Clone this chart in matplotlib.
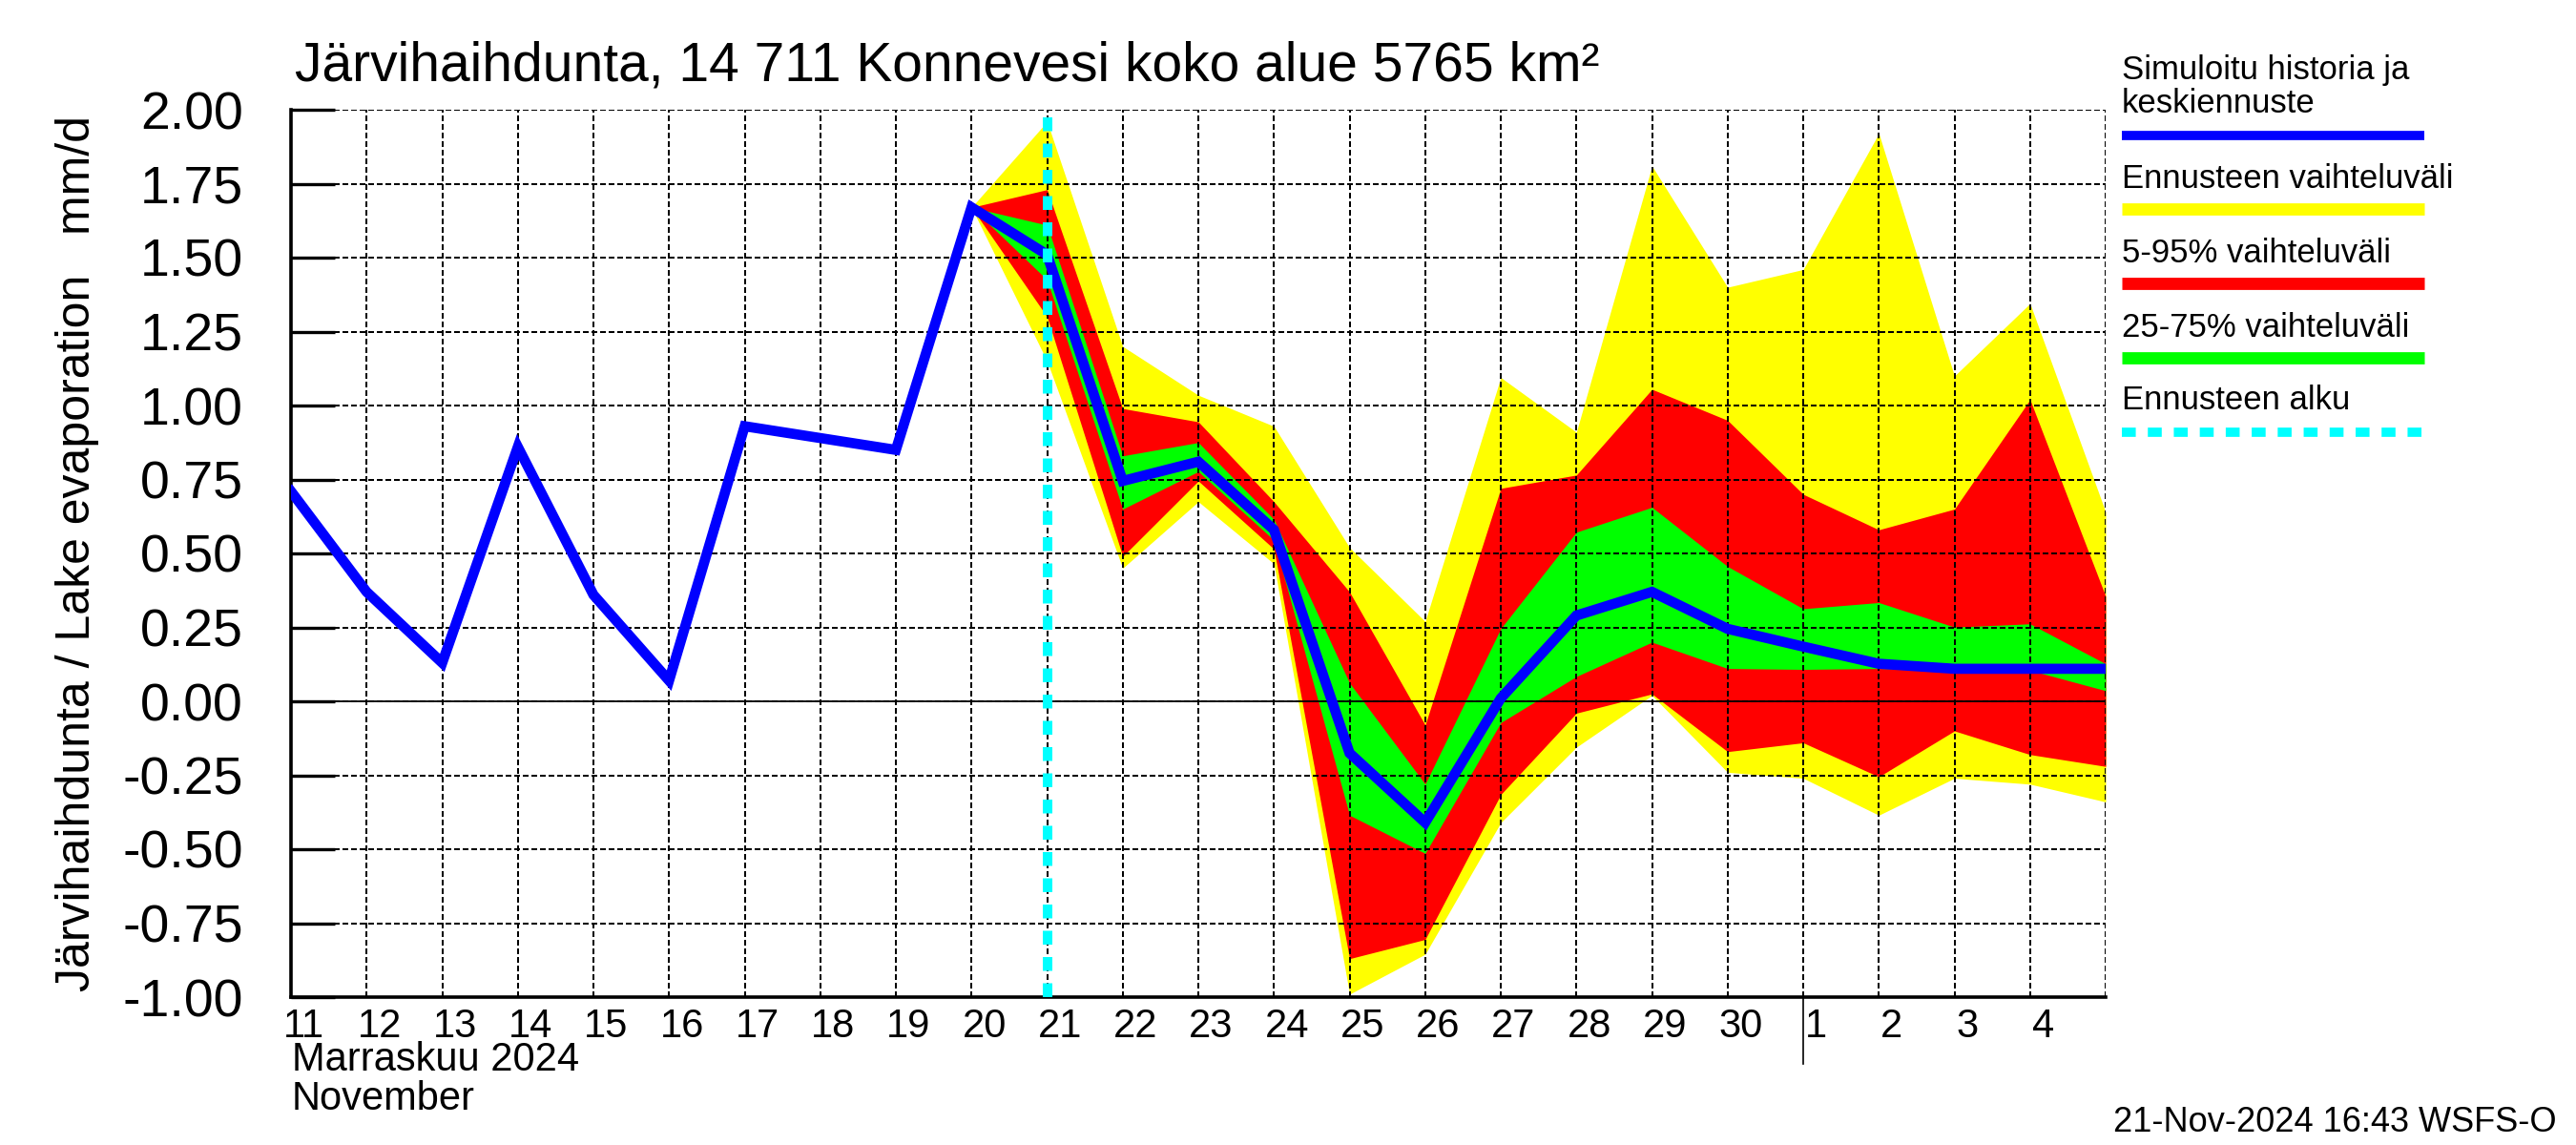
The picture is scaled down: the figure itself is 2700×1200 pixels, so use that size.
import matplotlib
matplotlib.use("Agg")
import matplotlib.pyplot as plt
from matplotlib.lines import Line2D
import matplotlib.transforms as mtransforms

plt.rcParams['font.family'] = ['Liberation Sans', 'DejaVu Sans']

# Päivät: marraskuun päivänumero, joulukuu jatkuu 31, 32, ...
days = list(range(11, 36))
day_labels = ['11', '12', '13', '14', '15', '16', '17', '18', '19', '20',
              '21', '22', '23', '24', '25', '26', '27', '28', '29', '30',
              '1', '2', '3', '4']

# Simuloitu historia ja keskiennuste (mm/d)
median = [0.71, 0.37, 0.13, 0.86, 0.36, 0.07, 0.93, 0.89, 0.85, 1.67,
          1.51, 0.745, 0.81, 0.58, -0.175, -0.41, 0.01, 0.29, 0.37, 0.245,
          0.185, 0.127, 0.11, 0.11, 0.11]

# Ennusteen vaihteluvälit päivästä 20 eteenpäin
fc_days = list(range(20, 36))
yel_hi = [1.67, 1.96, 1.20, 1.035, 0.93, 0.52, 0.27, 1.095, 0.91, 1.81,
          1.40, 1.46, 1.92, 1.10, 1.345, 0.64]
yel_lo = [1.67, 1.15, 0.45, 0.675, 0.465, -0.99, -0.855, -0.41, -0.155, 0.02,
          -0.24, -0.26, -0.385, -0.26, -0.28, -0.34]
red_hi = [1.67, 1.73, 0.99, 0.945, 0.675, 0.37, -0.08, 0.72, 0.765, 1.055,
          0.95, 0.70, 0.58, 0.65, 1.02, 0.355]
red_lo = [1.67, 1.30, 0.49, 0.745, 0.515, -0.87, -0.805, -0.315, -0.04, 0.025,
          -0.17, -0.14, -0.255, -0.10, -0.18, -0.22]
grn_hi = [1.67, 1.61, 0.83, 0.875, 0.615, 0.062, -0.28, 0.246, 0.572, 0.656,
          0.456, 0.313, 0.334, 0.251, 0.262, 0.127]
grn_lo = [1.67, 1.425, 0.65, 0.777, 0.545, -0.385, -0.514, -0.072, 0.084, 0.20,
          0.111, 0.108, 0.111, 0.105, 0.105, 0.036]

forecast_start = 21
month_start = 31
yticks = [-1.0, -0.75, -0.5, -0.25, 0.0, 0.25, 0.5, 0.75, 1.0, 1.25, 1.5, 1.75, 2.0]

W, H = 2700, 1200
fig = plt.figure(figsize=(W / 100, H / 100), dpi=100)
ax = fig.add_axes([305 / W, 1 - 1045 / H, (2207 - 305) / W, (1045 - 115) / H])

# Vaihteluvälit
ax.fill_between(fc_days, yel_lo, yel_hi, color=(1, 1, 0), lw=0, zorder=1)
ax.fill_between(fc_days, red_lo, red_hi, color=(1, 0, 0), lw=0, zorder=1.1)
ax.fill_between(fc_days, grn_lo, grn_hi, color=(0, 1, 0), lw=0, zorder=1.2)

ax.axhline(0, color='black', lw=1.3, zorder=1.6)
ax.plot(days, median, color=(0, 0, 1), lw=7.7, solid_joinstyle='miter', zorder=3)
ax.axvline(forecast_start, color=(0, 1, 1), lw=7.2, linestyle=(0, (1.45, 1.3)), zorder=4)

ax.set_xlim(11, 35)
ax.set_ylim(-1, 2)

# Ruudukko
ax.set_xticks(days)
ax.set_xticklabels([])
ax.set_yticks(yticks)
ax.set_yticklabels([f"{v:.2f}" for v in yticks], fontsize=40)
ax.set_axisbelow('line')
ax.grid(True, color='black', lw=1.1, linestyle=(0, (3.6, 2.2)), antialiased=False)

ax.tick_params(axis='y', direction='in', length=33, width=2.4, pad=36)
ax.tick_params(axis='x', which='major', length=0)

# Päivien nimiöt hieman gridin oikealle puolelle
ax.set_xticks([d + 0.17 for d in days[:-1]], day_labels, minor=True)
ax.tick_params(axis='x', which='minor', length=0, labelsize=30, pad=8)

for s in ['top', 'right']:
    ax.spines[s].set_visible(False)
ax.spines['left'].set_linewidth(2.6)
ax.spines['bottom'].set_linewidth(2.6)

# Kuukauden vaihde
trans = mtransforms.blended_transform_factory(ax.transData, ax.transAxes)
ax.plot([month_start, month_start], [0, -0.075], color='black', lw=1.2,
        transform=trans, clip_on=False)

fig.text(309 / W, 1 - 84 / H, 'Järvihaihdunta, 14 711 Konnevesi koko alue 5765 km²',
         fontsize=41, va='baseline', ha='left')
fig.text(81 / W, 1 - 580 / H, 'Järvihaihdunta / Lake evaporation   mm/d',
         fontsize=36, rotation=90, va='center', ha='center')
fig.text(306 / W, 1 - 1122 / H, 'Marraskuu 2024', fontsize=30, va='baseline')
fig.text(306 / W, 1 - 1163 / H, 'November', fontsize=30, va='baseline')
fig.text(2680 / W, 1 - 1186 / H, '21-Nov-2024 16:43 WSFS-O', fontsize=26,
         va='baseline', ha='right')

# Selite
lx0, lx1 = 2224 / W, 2541 / W
fig.text(lx0, 1 - 83 / H, 'Simuloitu historia ja', fontsize=25, va='baseline')
fig.text(lx0, 1 - 118 / H, 'keskiennuste', fontsize=25, va='baseline')
fig.add_artist(Line2D([lx0, lx1], [1 - 142 / H] * 2, color=(0, 0, 1), lw=7,
                      solid_capstyle='butt', transform=fig.transFigure))
legend_items = [
    ('Ennusteen vaihteluväli', 197, 219, (1, 1, 0)),
    ('5-95% vaihteluväli', 275, 297, (1, 0, 0)),
    ('25-75% vaihteluväli', 353, 375, (0, 1, 0)),
]
for label, ty, ly, col in legend_items:
    fig.text(lx0, 1 - ty / H, label, fontsize=25, va='baseline')
    fig.add_artist(Line2D([lx0, lx1], [1 - ly / H] * 2, color=col, lw=9.2,
                          solid_capstyle='butt', transform=fig.transFigure))
fig.text(lx0, 1 - 429 / H, 'Ennusteen alku', fontsize=25, va='baseline')
fig.add_artist(Line2D([lx0, lx1], [1 - 453 / H] * 2, color=(0, 1, 1), lw=7,
                      linestyle=(0, (1.5, 1.3)), dash_capstyle='butt',
                      transform=fig.transFigure))

fig.savefig('out.png', dpi=100)
